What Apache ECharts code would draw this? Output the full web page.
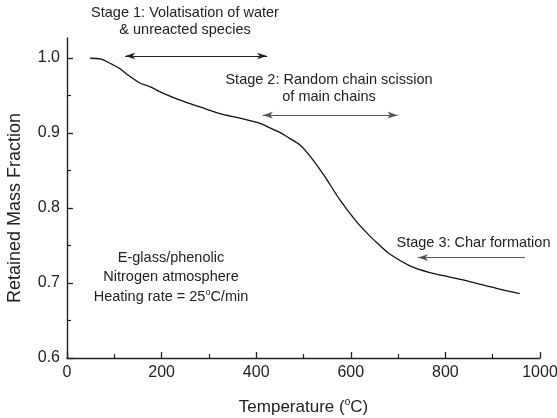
<!DOCTYPE html>
<html><head><meta charset="utf-8">
<script src="https://cdn.jsdelivr.net/npm/echarts@6/dist/echarts.min.js"></script>
<style>html,body{margin:0;padding:0;background:#fff}#c{width:557px;height:418px}</style>
</head><body><div id="c"></div>
<script>
// ---- data ----
const temperature = [49, 70, 98, 112, 126, 154, 175, 204, 239, 281, 323, 366, 408, 429, 450, 471, 493, 513, 542, 577, 612, 640, 660, 684, 725, 767, 809, 851, 908, 957];
const massFraction = [1.000, 0.999, 0.991, 0.986, 0.979, 0.967, 0.962, 0.953, 0.944, 0.935, 0.926, 0.920, 0.913, 0.907, 0.901, 0.893, 0.884, 0.870, 0.845, 0.811, 0.782, 0.763, 0.751, 0.738, 0.723, 0.714, 0.708, 0.702, 0.693, 0.686];
// arrows: [startT, startM, endT, endM, doubleHeaded]
const stage1Arrow = [123, 1.003, 423, 1.003, true];
const stage2Arrow = [414, 0.924, 699, 0.924, true];
const stage3Arrow = [968, 0.734, 742, 0.734, false];
const stage1Text = ['Stage 1: Volatisation of water', '& unreacted species'];
const stage2Text = ['Stage 2: Random chain scission', 'of main chains'];
const stage3Text = ['Stage 3: Char formation'];
const noteText = ['E-glass/phenolic', 'Nitrogen atmosphere', 'Heating rate = 25{s|o}C/min'];
const xAxisTitle = '{a|Temperature (}{s|o}{a|C)}';
const yAxisTitle = 'Retained Mass Fraction';

const FONT = '"Liberation Sans", Arial, Helvetica, sans-serif';
const INK = '#222';

const chart = echarts.init(document.getElementById('c'), null, {renderer: 'canvas'});

function arrowPair(a, color) {
  return [
    {coord: [a[0], a[1]], symbol: a[4] ? 'arrow' : 'none', symbolSize: [5, 10], lineStyle: {color: color, width: 1.2, type: 'solid'}},
    {coord: [a[2], a[3]], symbol: 'arrow', symbolSize: [5, 10]}
  ];
}

function textEl(str, x, y, size) {
  return {
    type: 'text', x: x, y: y, silent: true,
    style: {
      text: str, fill: INK, font: size + 'px ' + FONT, fontSize: size, fontFamily: FONT,
      align: 'center', verticalAlign: 'middle',
      rich: {s: {fontSize: 9, fontFamily: FONT, fill: INK, verticalAlign: 'top', lineHeight: 17}}
    }
  };
}

const option = {
  animation: false,
  backgroundColor: '#fff',
  grid: [
    {left: 67, right: 17, top: 38, bottom: 60, containLabel: false, outerBoundsMode: 'none'},
    {left: 67, right: 17, top: 58, bottom: 60, containLabel: false, outerBoundsMode: 'none'}
  ],
  xAxis: [
    {
      gridIndex: 0, type: 'value', min: 0, max: 1000, interval: 200,
      axisLine: {onZero: false, lineStyle: {color: INK, width: 1.4}},
      axisTick: {inside: true, length: 6, lineStyle: {color: INK, width: 1.3}},
      minorTick: {show: true, splitNumber: 2, length: 4, lineStyle: {color: INK, width: 1.2}},
      splitLine: {show: false}, minorSplitLine: {show: false},
      axisLabel: {fontSize: 16, color: INK, margin: 7, fontFamily: FONT, formatter: v => String(v)},
      name: xAxisTitle, nameLocation: 'middle', nameGap: 39,
      nameTextStyle: {rich: {
        a: {fontSize: 17, color: INK, fontFamily: FONT, lineHeight: 20},
        s: {fontSize: 10, color: INK, fontFamily: FONT, verticalAlign: 'top', lineHeight: 20}
      }}
    },
    {gridIndex: 1, type: 'value', min: 0, max: 1000, show: false}
  ],
  yAxis: [
    {
      gridIndex: 0, type: 'value', min: 0.6, max: 1.027,
      axisLine: {show: true, onZero: false, lineStyle: {color: INK, width: 1.4}},
      axisTick: {show: false}, axisLabel: {show: false}, splitLine: {show: false}
    },
    {
      gridIndex: 1, type: 'value', min: 0.6, max: 1.0, interval: 0.1,
      axisLine: {show: false},
      axisTick: {show: true, inside: true, length: 6, lineStyle: {color: INK, width: 1.3}},
      minorTick: {show: true, splitNumber: 2, length: 4, lineStyle: {color: INK, width: 1.2}},
      splitLine: {show: false},
      axisLabel: {fontSize: 16, color: INK, margin: 7, fontFamily: FONT, formatter: v => v.toFixed(1)},
      name: yAxisTitle, nameLocation: 'middle', nameGap: 43,
      nameTextStyle: {fontSize: 18, color: INK, fontFamily: FONT}
    }
  ],
  series: [
    {
      type: 'line', xAxisIndex: 0, yAxisIndex: 0,
      data: temperature.map((t, i) => [t, massFraction[i]]),
      symbol: 'none', showSymbol: false, smooth: 0.3, clip: false,
      lineStyle: {color: '#111', width: 1.3},
      markLine: {
        silent: true, animation: false,
        label: {show: false},
        symbol: ['arrow', 'arrow'], symbolSize: [5, 10],
        lineStyle: {type: 'solid', width: 1.2},
        data: [
          arrowPair(stage1Arrow, '#222'),
          arrowPair(stage2Arrow, '#555'),
          arrowPair(stage3Arrow, '#555')
        ]
      }
    }
  ],
  graphic: [
    textEl(stage1Text[0], 185, 12.5, 14.5),
    textEl(stage1Text[1], 185, 30, 14.5),
    textEl(stage2Text[0], 329, 79.5, 14.5),
    textEl(stage2Text[1], 329, 97, 14.5),
    textEl(stage3Text[0], 473.5, 243, 14.5),
    textEl(noteText[0], 171, 258, 14.5),
    textEl(noteText[1], 171, 277, 14.5),
    textEl(noteText[2], 171, 297, 14.5)
  ]
};
chart.setOption(option);
</script>
</body></html>
